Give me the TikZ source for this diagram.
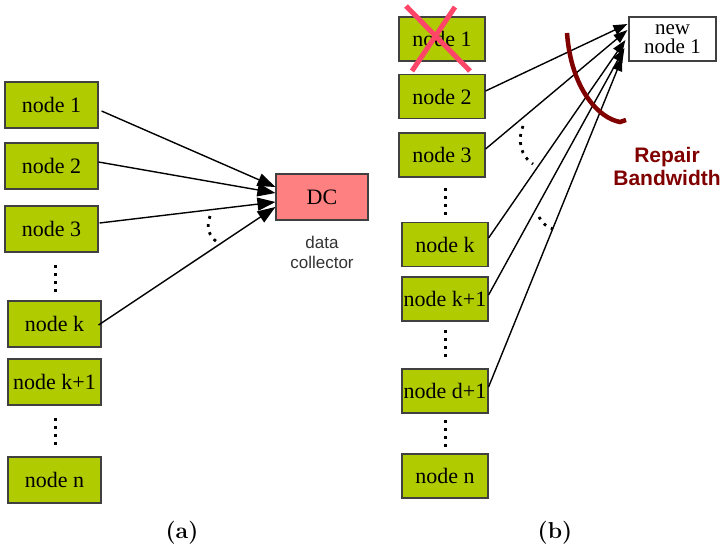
\documentclass[tikz,border=0pt]{standalone}
\usepackage{fontspec}
\newfontfamily\lserif{Liberation Serif}
\newfontfamily\lsans{Liberation Sans}
\usetikzlibrary{arrows.meta}
\definecolor{nodegreen}{RGB}{176,204,0}
\definecolor{dcred}{RGB}{255,128,128}
\definecolor{xred}{RGB}{255,70,105}
\definecolor{darkred}{RGB}{128,0,0}
\definecolor{labgray}{RGB}{51,51,51}
\begin{document}
\begin{tikzpicture}[x=1pt,y=-1pt,
  nbox/.style={draw=black!75, fill=nodegreen, minimum width=93pt, minimum height=46pt, inner sep=0pt, line width=1.1pt, font=\lserif\fontsize{22}{24}\selectfont},
  bbox/.style={nbox, minimum width=86pt, minimum height=44pt},
  arr/.style={line width=1.4pt, -{Triangle[length=18pt,width=13pt]}},
  arrb/.style={line width=1.4pt, -{Triangle[length=14pt,width=10pt]}},
  vdots/.style={line width=3pt, dash pattern=on 3pt off 5pt},
  arcdots/.style={line width=2.8pt, dash pattern=on 2.8pt off 5.5pt},
  captxt/.style={font=\bfseries\fontsize{23}{26}\selectfont}]
\useasboundingbox (0,0) rectangle (723,549);
% (a)
\node[nbox] (a1) at (51.5,105) {node 1};
\node[nbox] (a2) at (51.5,166) {node 2};
\node[nbox] (a3) at (51.5,229) {node 3};
\node[nbox] (ak) at (54.5,324) {node k};
\node[nbox] (ak1) at (54.5,382) {node k+1};
\node[nbox] (an) at (54.5,480) {node n};
\draw[vdots] (55,265) -- (55,294);
\draw[vdots] (55,418) -- (55,447);
\node[draw=black!75, fill=dcred, minimum width=92pt, minimum height=46pt, inner sep=0pt, line width=1.1pt, font=\lserif\fontsize{22}{24}\selectfont] (dc) at (322,197) {DC};
\node[font=\lsans\fontsize{17}{20}\selectfont, text=labgray, align=center] (dcl) at (322,252) {data\\collector};
\draw[arr] ([xshift=3pt,yshift=-6pt]a1.east) -- ([yshift=10pt]dc.west);
\draw[arr] ([yshift=4pt]a2.east) -- ([yshift=4pt]dc.west);
\draw[arr] ([xshift=1pt,yshift=6pt]a3.east) -- ([yshift=-5pt]dc.west);
\draw[arr] ([xshift=-3pt,yshift=-1pt]ak.east) -- ([yshift=-10pt]dc.west);
\draw[arcdots] (210,216) .. controls (206,228) and (209,236) .. (217,242);
\node[captxt] (capa) at (182,533) {(a)};
% (b)
\node[bbox] (b1) at (442,39) {node 1};
\node[bbox] (b2) at (442,96.5) {node 2};
\node[bbox] (b3) at (442,155) {node 3};
\node[bbox] (bk) at (445,244.5) {node k};
\node[bbox] (bk1) at (445,299) {node k+1};
\node[bbox] (bd) at (445,391) {node d+1};
\node[bbox] (bn) at (445,476) {node n};
\draw[vdots] (445,188) -- (445,217);
\draw[vdots] (445,330) -- (445,360);
\draw[vdots] (445,420) -- (445,449);
\draw[xred, line width=5pt] (406,6) -- (470,71);
\draw[xred, line width=5pt] (455,7) -- (412,71);
\node[draw=black!75, fill=white, minimum width=87pt, minimum height=44pt, inner sep=0pt, line width=1.1pt, align=center, font=\lserif\fontsize{21}{19}\selectfont] (nn) at (672.5,39) {new\\node 1};
\draw[arrb] ([yshift=5.5pt]b2.east) -- ([xshift=-1pt,yshift=15pt]nn.west);
\draw[arrb] ([yshift=6pt]b3.east) -- ([xshift=-1pt,yshift=9pt]nn.west);
\draw[arrb] ([yshift=6.5pt]bk.east) -- ([xshift=-3pt,yshift=-1pt]nn.west);
\draw[arrb] ([yshift=4pt]bk1.east) -- ([xshift=-4pt,yshift=-9pt]nn.west);
\draw[arrb] ([yshift=4pt]bd.east) -- ([xshift=-6pt,yshift=-18pt]nn.west);
\draw[arcdots] (523,126) .. controls (517,140) and (521,157) .. (533,164);
\draw[arcdots] (539,217) .. controls (543,224) and (547,227) .. (553,229);
\draw[darkred, line width=4.5pt] (567,33) .. controls (571,88) and (598,118) .. (620,122) -- (626,120);
\node[font=\lsans\bfseries\fontsize{21}{23}\selectfont, text=darkred, align=center] (rb) at (667,166) {Repair\\Bandwidth};
\node[captxt] (capb) at (555,533) {(b)};
\end{tikzpicture}
\end{document}
